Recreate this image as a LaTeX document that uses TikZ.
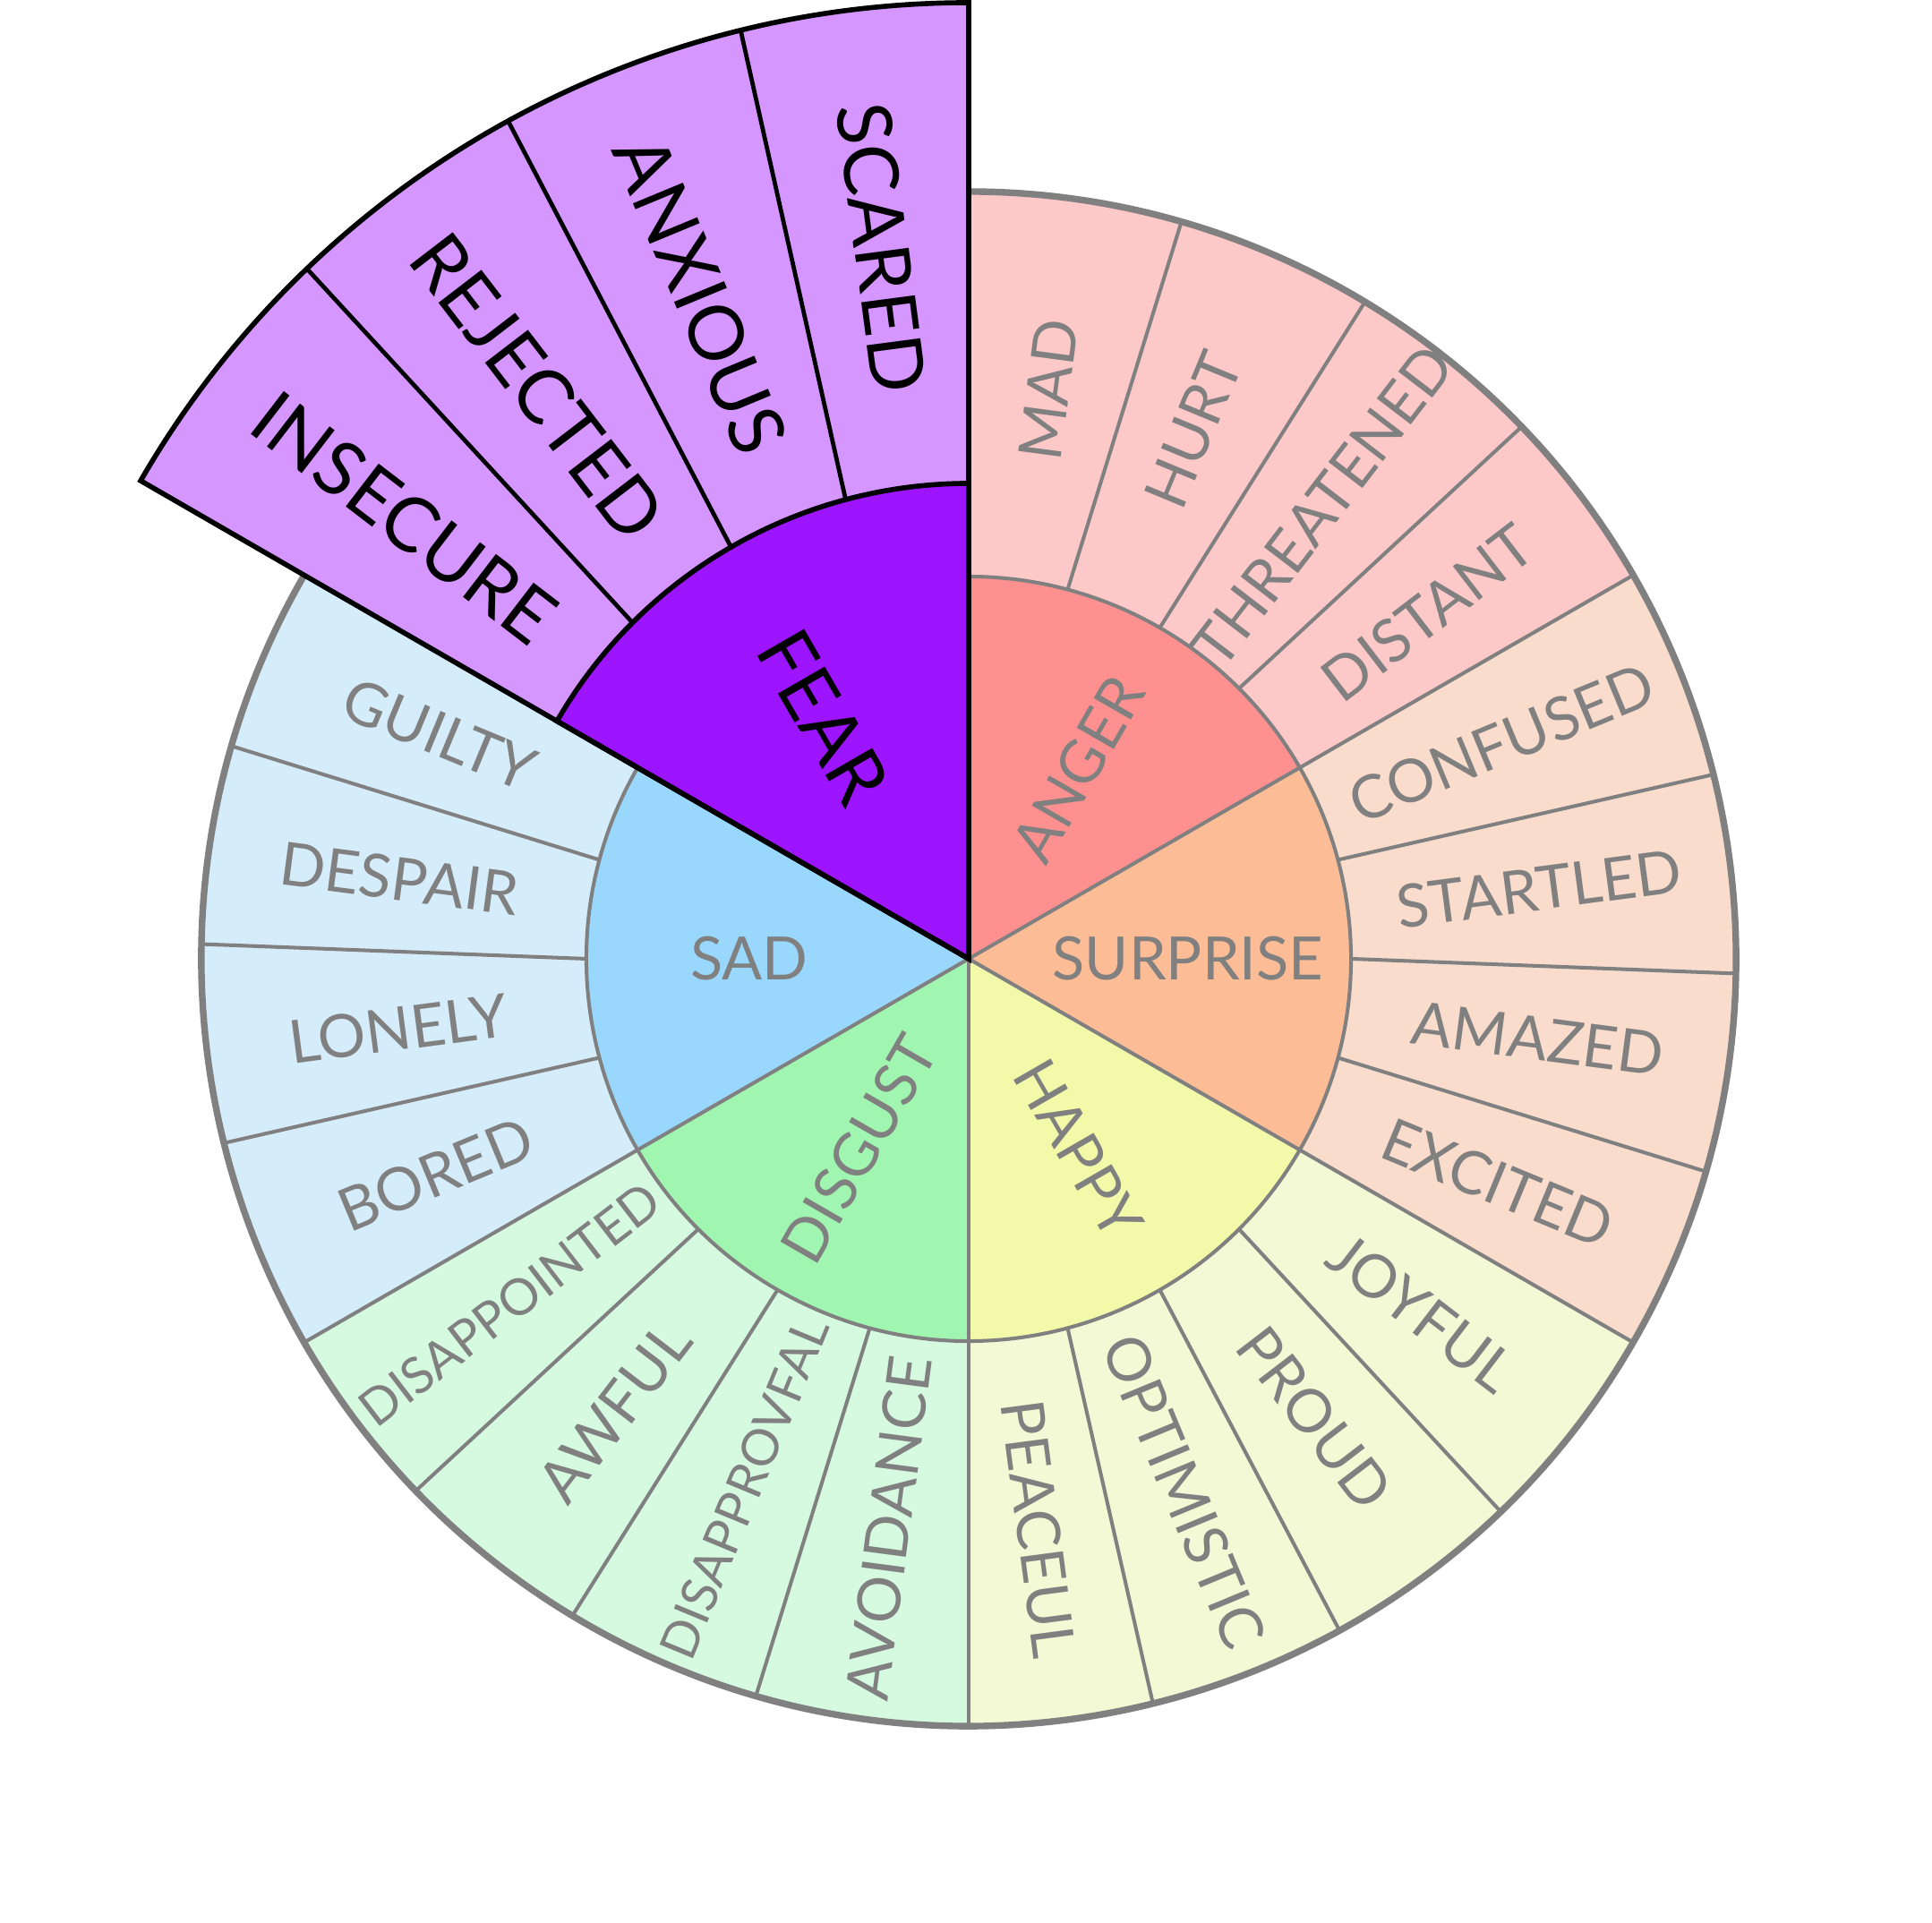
\documentclass[tikz,border=0pt]{standalone}
\usepackage{fontspec}
\setmainfont{Lato}
\definecolor{linegray}{RGB}{128,128,128}
\definecolor{angerIn}{RGB}{255,144,144}
\definecolor{angerOut}{RGB}{252,200,200}
\definecolor{surpIn}{RGB}{251,188,150}
\definecolor{surpOut}{RGB}{250,220,205}
\definecolor{happyIn}{RGB}{242,250,170}
\definecolor{happyOut}{RGB}{243,249,213}
\definecolor{disgIn}{RGB}{160,245,176}
\definecolor{disgOut}{RGB}{213,250,224}
\definecolor{sadIn}{RGB}{153,215,253}
\definecolor{sadOut}{RGB}{213,236,250}
\definecolor{fearIn}{RGB}{157,20,255}
\definecolor{fearOut}{RGB}{213,151,255}
\begin{document}
\begin{tikzpicture}[
  lbl/.style={text=linegray, font=\fontsize{19}{19}\selectfont, inner sep=0pt, anchor=center},
  smalllbl/.style={lbl, font=\fontsize{16}{16}\selectfont},
  fearlbl/.style={text=black, inner sep=0pt, anchor=center, font=\fontsize{24}{24}\selectfont},
  grayline/.style={draw=linegray, line width=1.15pt},
  rimline/.style={draw=linegray, line width=2.1pt},
  fearline/.style={draw=black, line width=1.35pt},
  fearedge/.style={draw=black, line width=1.6pt},
]
\useasboundingbox (0,0) rectangle (21.58,21.48);
\fill[white] (0,0) rectangle (21.58,21.48);
\begin{scope}[shift={(10.82,10.77)}]
% base wheel: outer bands and inner wedges
\foreach \s/\co/\ci in {90/angerOut/angerIn, 30/surpOut/surpIn, -30/happyOut/happyIn, -90/disgOut/disgIn, -150/sadOut/sadIn}{
  \pgfmathsetmacro\e{\s-60}
  \fill[\co] (0,0) -- (\s:8.57) arc[start angle=\s, end angle=\e, radius=8.57cm] -- cycle;
  \fill[\ci] (0,0) -- (\s:4.27) arc[start angle=\s, end angle=\e, radius=4.27cm] -- cycle;
  \foreach \k in {1,2,3}{
    \pgfmathsetmacro\a{\s-15*\k}
    \pgfmathsetmacro\b{\a-1.1}
    \draw[grayline] (\a:4.27) -- (\b:8.57);
  }
}
\foreach \s in {30,-30,-90,-150}{
  \draw[grayline] (0,0) -- (\s:8.57);
}
\draw[grayline] (150:4.27) arc[start angle=150, end angle=450, radius=4.27cm];
\draw[rimline] (150:8.57) arc[start angle=150, end angle=450, radius=8.57cm];
% fear slice, enlarged
\fill[fearOut] (0,0) -- (150:10.68) arc[start angle=150, end angle=90, radius=10.68cm] -- cycle;
\foreach \k in {1,2,3}{
  \pgfmathsetmacro\a{150-15*\k}
  \pgfmathsetmacro\b{\a-1.2}
  \draw[fearline] (\a:5.31) -- (\b:10.68);
}
\filldraw[fill=fearIn, fearedge] (0,0) -- (150:5.31) arc[start angle=150, end angle=90, radius=5.31cm] -- cycle;
\draw[fearedge] (0,0) -- (150:10.68) arc[start angle=150, end angle=90, radius=10.68cm] -- cycle;

% inner labels
\node[lbl, rotate=60] (anger) at (60:2.45) {ANGER};
\node[lbl] (surprise) at (0:2.45) {SURPRISE};
\node[lbl, rotate=-60] (happy) at (-60:2.45) {HAPPY};
\node[lbl, rotate=60] (disgust) at (240:2.45) {DISGUST};
\node[lbl] (sad) at (180:2.45) {SAD};
\node[fearlbl, rotate=-60] (fear) at (121:3.15) {FEAR};

% anger
\node[lbl, rotate=82.5] (mad) at (82:6.42) {MAD};
\node[lbl, rotate=67.5] (hurt) at (67:6.42) {HURT};
\node[lbl, rotate=52.5] (threatened) at (52:6.42) {THREATENED};
\node[lbl, rotate=37.5] (distant) at (37:6.42) {DISTANT};
% surprise
\node[lbl, rotate=22.5] (confused) at (22:6.42) {CONFUSED};
\node[lbl, rotate=7.5] (startled) at (7:6.42) {STARTLED};
\node[lbl, rotate=-7.5] (amazed) at (-8:6.42) {AMAZED};
\node[lbl, rotate=-22.5] (excited) at (-23:6.42) {EXCITED};
% happy
\node[lbl, rotate=-37.5] (joyful) at (-38:6.42) {JOYFUL};
\node[lbl, rotate=-52.5] (proud) at (-53:6.42) {PROUD};
\node[lbl, rotate=-67.5] (optimistic) at (-68:6.42) {OPTIMISTIC};
\node[lbl, rotate=-82.5] (peaceul) at (-83:6.42) {PEACEUL};
% disgust
\node[lbl, rotate=82.5] (avoidance) at (262:6.42) {AVOIDANCE};
\node[smalllbl, rotate=67.5] (disapprovfal) at (247:6.42) {DISAPPROVFAL};
\node[lbl, rotate=52.5] (awful) at (232:6.42) {AWFUL};
\node[smalllbl, rotate=37.5] (disappointed) at (217:6.42) {DISAPPOINTED};
% sad
\node[lbl, rotate=22.5] (bored) at (202:6.42) {BORED};
\node[lbl, rotate=7.5] (lonely) at (187:6.42) {LONELY};
\node[lbl, rotate=-7.5] (despair) at (172:6.42) {DESPAIR};
\node[lbl, rotate=-22.5] (guilty) at (157:6.42) {GUILTY};
% fear
\node[fearlbl, rotate=-37.5] (insecure) at (142:8.0) {INSECURE};
\node[fearlbl, rotate=-52.5] (rejected) at (127:8.0) {REJECTED};
\node[fearlbl, rotate=-67.5] (anxious) at (112:8.0) {ANXIOUS};
\node[fearlbl, rotate=-82.5] (scared) at (97:8.0) {SCARED};
\end{scope}
\end{tikzpicture}
\end{document}
